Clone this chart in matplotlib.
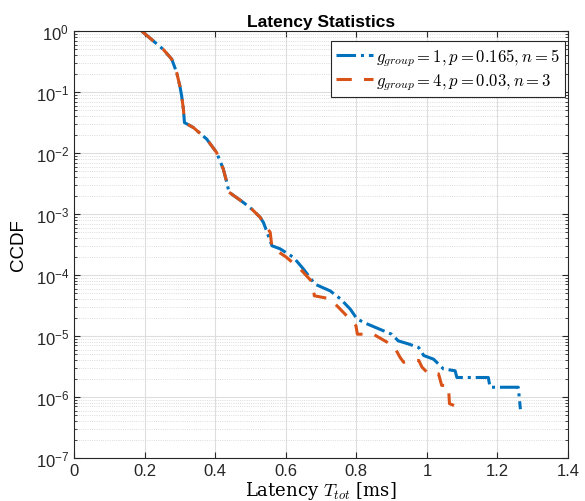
import numpy as np
import matplotlib
matplotlib.use("Agg")
import matplotlib.pyplot as plt
from matplotlib.ticker import LogLocator, NullFormatter

# latency [ms] vs log10(CCDF)
x_g1 = [0.192, 0.253, 0.277, 0.291, 0.300, 0.305, 0.310, 0.313, 0.338, 0.376,
        0.404, 0.423, 0.433, 0.439, 0.480, 0.504, 0.527, 0.537, 0.561, 0.584,
        0.622, 0.650, 0.683, 0.726, 0.755, 0.783, 0.802, 0.826, 0.867, 0.900,
        0.919, 0.948, 0.977, 0.991, 1.019, 1.033, 1.047, 1.080, 1.085, 1.174,
        1.179, 1.259, 1.265]
logy_g1 = [0.0, -0.30, -0.46, -0.68, -0.90, -1.06, -1.28, -1.50, -1.58, -1.77,
           -1.99, -2.26, -2.48, -2.64, -2.81, -2.92, -3.05, -3.14, -3.52, -3.57,
           -3.71, -3.90, -4.15, -4.26, -4.39, -4.56, -4.72, -4.79, -4.89, -4.97,
           -5.08, -5.13, -5.19, -5.32, -5.38, -5.46, -5.54, -5.57, -5.68, -5.68,
           -5.84, -5.84, -6.20]

x_g4 = [0.192, 0.253, 0.277, 0.291, 0.300, 0.305, 0.310, 0.313, 0.338, 0.376,
        0.404, 0.423, 0.433, 0.439, 0.480, 0.504, 0.527, 0.537, 0.556, 0.561,
        0.600, 0.641, 0.676, 0.681, 0.726, 0.773, 0.799, 0.803, 0.848, 0.887,
        0.906, 0.924, 0.934, 0.977, 0.986, 1.005, 1.033, 1.042, 1.061, 1.064,
        1.082]
logy_g4 = [0.0, -0.30, -0.46, -0.68, -0.90, -1.06, -1.28, -1.50, -1.58, -1.77,
           -1.99, -2.26, -2.48, -2.64, -2.81, -2.92, -3.05, -3.14, -3.30, -3.55,
           -3.70, -3.90, -4.12, -4.34, -4.39, -4.67, -4.83, -4.97, -4.97, -5.10,
           -5.16, -5.35, -5.43, -5.40, -5.51, -5.62, -5.62, -5.81, -5.81, -6.11,
           -6.15]

labels = [r"$g_{group} = 1, p = 0.165, n = 5$",
          r"$g_{group} = 4, p = 0.03, n = 3$"]
xticks = [0, 0.2, 0.4, 0.6, 0.8, 1.0, 1.2, 1.4]
xticklabels = ["0", "0.2", "0.4", "0.6", "0.8", "1", "1.2", "1.4"]

plt.rcParams["font.family"] = ["Liberation Sans", "DejaVu Sans"]
plt.rcParams["mathtext.fontset"] = "cm"

fig = plt.figure(figsize=(5.85, 5.02), dpi=100)
ax = fig.add_axes([0.1265, 0.0857, 0.8445, 0.8503])

ax.plot(x_g1, 10 ** np.array(logy_g1), linestyle="-.", color="#0072BD",
        lw=2.2, label=labels[0])
ax.plot(x_g4, 10 ** np.array(logy_g4), linestyle="--", color="#D95319",
        lw=2.2, label=labels[1], dashes=(5, 4))

ax.set_yscale("log")
ax.set_xlim(0, 1.4)
ax.set_ylim(1e-7, 1)
ax.set_xticks(xticks)
ax.set_xticklabels(xticklabels)
ax.yaxis.set_major_locator(LogLocator(base=10, numticks=10))
ax.yaxis.set_minor_locator(LogLocator(base=10, subs=np.arange(2, 10), numticks=100))
ax.yaxis.set_minor_formatter(NullFormatter())

ax.grid(True, which="major", color="#dedede", lw=0.8, ls="-")
ax.grid(True, which="minor", axis="y", color="#d0d0d0", lw=0.6, ls=":")
ax.set_axisbelow(True)

ax.tick_params(which="both", direction="in", top=True, right=True,
               labelsize=12, colors="#262626")
ax.tick_params(which="major", length=4)
ax.tick_params(which="minor", length=2)
for s in ax.spines.values():
    s.set_color("#262626")
    s.set_linewidth(0.8)

ax.set_title("Latency Statistics", fontsize=12.5, fontweight="bold", pad=4)
ax.set_ylabel("CCDF", fontsize=13.5, labelpad=6)
ax.set_xlabel(r"Latency $T_{tot}$ [ms]", fontsize=13, family="serif",
              labelpad=1)

leg = ax.legend(loc="upper right", bbox_to_anchor=(0.994, 0.977),
                fontsize=12, frameon=True, fancybox=False,
                edgecolor="#262626", framealpha=1, handlelength=2.2,
                handletextpad=0.2, borderpad=0.3, labelspacing=0.2,
                borderaxespad=0)
leg.get_frame().set_linewidth(0.8)

fig.savefig("out.png", dpi=100)
